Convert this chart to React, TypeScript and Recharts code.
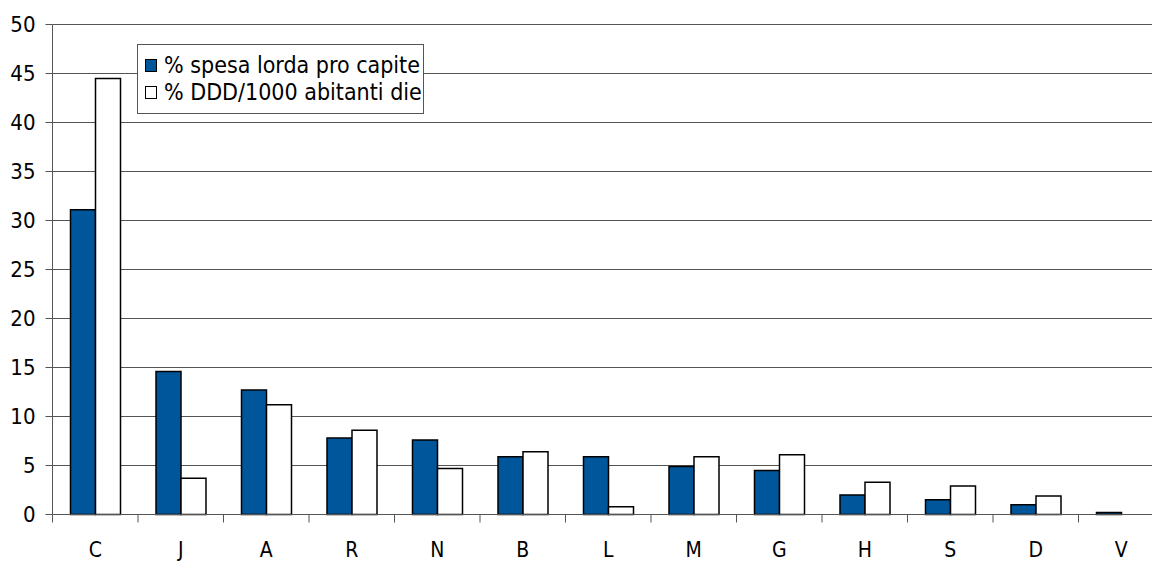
import React from 'react';
import { BarChart, Bar, XAxis, YAxis, CartesianGrid } from 'recharts';

const categories = ['C', 'J', 'A', 'R', 'N', 'B', 'L', 'M', 'G', 'H', 'S', 'D', 'V'];
const spesaLorda = [31.1, 14.6, 12.7, 7.8, 7.6, 5.9, 5.9, 4.9, 4.5, 2.0, 1.5, 1.0, 0.2];
const dddAbitanti = [44.5, 3.7, 11.2, 8.6, 4.7, 6.4, 0.8, 5.9, 6.1, 3.3, 2.9, 1.9, 0];
const yTicks = [0, 5, 10, 15, 20, 25, 30, 35, 40, 45, 50];
const seriesNames = ['% spesa lorda pro capite', '% DDD/1000 abitanti die'];

const data = categories.map((c, i) => ({
  cat: c,
  spesa: spesaLorda[i],
  ddd: dddAbitanti[i],
}));

const CHART_W = 1172;
const CHART_H = 561;
const MARGIN = { top: 24.5, right: 8, left: 0, bottom: 0 };
const Y_W = 52.5;
const BAND = (CHART_W - MARGIN.left - MARGIN.right - Y_W) / categories.length;
const FONT = '"DejaVu Sans Condensed", "DejaVu Sans", sans-serif';
const BLUE = '#00569a';
const GRID = '#555';

function XTick(props: any) {
  const { x, y, payload } = props;
  const left = x - BAND / 2;
  return (
    <g>
      <line x1={left} y1={y - 8} x2={left} y2={y} stroke={GRID} strokeWidth={1} />
      <text x={x} y={y + 34} textAnchor="middle" fill="#000" fontSize={21} fontFamily={FONT}>
        {payload.value}
      </text>
    </g>
  );
}

function LegendBox() {
  const fills = [BLUE, '#fff'];
  return (
    <div
      style={{
        position: 'absolute',
        left: 137,
        top: 44,
        border: `1px solid ${GRID}`,
        background: '#fff',
        width: 287,
        height: 70,
        boxSizing: 'border-box',
        padding: '7px 0 0 7px',
        fontFamily: FONT,
        fontSize: 23,
        color: '#000',
      }}
    >
      {seriesNames.map((name, i) => (
        <div key={name} style={{ display: 'flex', alignItems: 'center', height: 27 }}>
          <span
            style={{
              display: 'inline-block',
              width: 10,
              height: 11,
              border: '1.5px solid #000',
              background: fills[i],
              marginRight: 7,
            }}
          />
          <span style={{ lineHeight: '27px', whiteSpace: 'nowrap' }}>{name}</span>
        </div>
      ))}
    </div>
  );
}

export default function App() {
  return (
    <div style={{ position: 'absolute', left: 0, top: 0, width: 1152, height: 561, overflow: 'hidden', background: '#fff' }}>
      <BarChart width={CHART_W} height={CHART_H} data={data} margin={MARGIN} barGap={0} barSize={25}>
        <CartesianGrid vertical={false} stroke={GRID} strokeWidth={1} />
        <XAxis
          dataKey="cat"
          height={46.5}
          tick={<XTick />}
          tickLine={false}
          axisLine={{ stroke: GRID, strokeWidth: 1 }}
          interval={0}
        />
        <YAxis
          width={Y_W}
          domain={[0, 50]}
          ticks={yTicks}
          interval={0}
          tickSize={7}
          tickMargin={10}
          tickLine={{ stroke: GRID }}
          axisLine={{ stroke: GRID, strokeWidth: 1 }}
          tick={{ fill: '#000', fontSize: 22, fontFamily: FONT }}
        />
        <Bar dataKey="spesa" name={seriesNames[0]} fill={BLUE} stroke="#000" strokeWidth={1.5} isAnimationActive={false} />
        <Bar dataKey="ddd" name={seriesNames[1]} fill="#fff" stroke="#000" strokeWidth={1.5} isAnimationActive={false} />
      </BarChart>
      <LegendBox />
    </div>
  );
}
